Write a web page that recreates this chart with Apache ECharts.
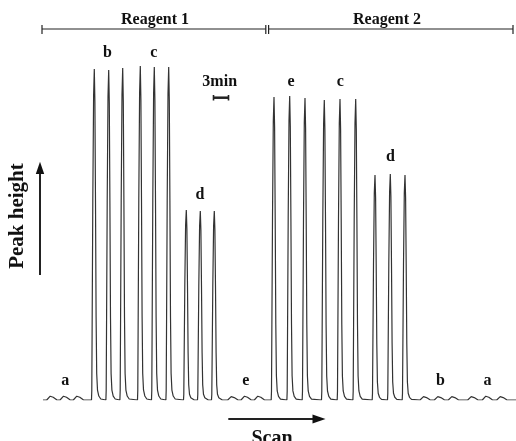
<!DOCTYPE html>
<html>
<head>
  <meta charset="utf-8">
</head>
<body style="margin: 0; background: #fff">
  <div id="container" style="width: 516px; height: 441px"></div>

  <script type="text/javascript" src="https://fastly.jsdelivr.net/npm/echarts@6/dist/echarts.min.js"></script>

  <script type="text/javascript">
    // scan time in min, peak height in relative units
    const reagent1Times = [10.26, 13.14, 15.94, 19.46, 22.26, 25.14, 28.66, 31.46, 34.26];
    const reagent1Heights = [331, 330, 332, 334, 333, 333, 190, 189, 189];
    const reagent2Times = [46.2, 49.34, 52.4, 56.26, 59.4, 62.54, 66.4, 69.46, 72.4];
    const reagent2Heights = [303, 304, 302, 300, 301, 301, 225, 226, 225];
    const blankTimes = [1.74, 4.4, 7.06, 37.94, 40.6, 43.26, 76.4, 79.26, 82.06, 85.94, 88.86, 91.74];
    const blankHeights = [4, 4, 4, 3.5, 4, 4, 3.5, 3.5, 3.5, 3.5, 4, 3.5];
    // shape of one peak (offset in min, fraction of height)
    const peakDx = [-0.56, -0.5, -0.44, -0.3, -0.14, 0, 0.12, 0.24, 0.36, 0.48, 0.64, 0.9, 1.3, 1.6];
    const peakFrac = [0, 0.03, 0.2, 0.6, 0.92, 1, 0.9, 0.6, 0.25, 0.08, 0.03, 0.012, 0.003, 0];
    const bumpDx = [-1, -0.6, -0.3, 0, 0.3, 0.6, 1, 1.4];
    const bumpFrac = [0, 0.5, 0.95, 1, 0.7, 0.3, 0.05, 0];
    const scanEnd = 94.6;

    function addPeaks(times, heights, dx, frac, out) {
      for (let i = 0; i < times.length; i++) {
        for (let j = 0; j < dx.length; j++) {
          out.push([+(times[i] + dx[j]).toFixed(3), heights[i] * frac[j]]);
        }
      }
    }

    let trace = [[0, 0], [scanEnd, 0]];
    addPeaks(reagent1Times, reagent1Heights, peakDx, peakFrac, trace);
    addPeaks(reagent2Times, reagent2Heights, peakDx, peakFrac, trace);
    addPeaks(blankTimes, blankHeights, bumpDx, bumpFrac, trace);
    trace.sort(function (a, b) { return a[0] - b[0]; });

    var dom = document.getElementById('container');
    var myChart = echarts.init(dom, null, { renderer: 'canvas' });

    const ink = '#111';
    const boldFont = function (size) {
      return 'bold ' + size + 'px "Liberation Serif", "Times New Roman", serif';
    };
    function label(txt, x, y, size) {
      return {
        type: 'text',
        x: x,
        y: y,
        style: {
          text: txt,
          font: boldFont(size || 16),
          fill: ink,
          align: 'center',
          verticalAlign: 'middle'
        }
      };
    }
    function seg(points, width) {
      return {
        type: 'polyline',
        shape: { points: points },
        style: { stroke: '#222', lineWidth: width || 1.2, fill: null }
      };
    }

    var option = {
      animation: false,
      backgroundColor: '#fff',
      grid: { left: 43, right: 0, top: 0, bottom: 41 },
      xAxis: { type: 'value', min: 0, max: scanEnd, show: false },
      yAxis: { type: 'value', min: 0, max: 400, show: false },
      series: [
        {
          type: 'line',
          data: trace,
          showSymbol: false,
          lineStyle: { color: '#333', width: 1.2 }
        }
      ],
      graphic: [
        // reagent brackets
        seg([[42, 29], [266, 29]]),
        seg([[268.5, 29], [513, 29]]),
        seg([[42, 25], [42, 34]]),
        seg([[265.8, 25], [265.8, 34]]),
        seg([[268.6, 25], [268.6, 34]]),
        seg([[513, 25], [513, 34]]),
        label('Reagent 1', 155, 19.6),
        label('Reagent 2', 387, 19.6),
        // 3 min scale bar
        seg([[213.5, 97.7], [228.5, 97.7]], 2.5),
        seg([[213.5, 95], [213.5, 100.5]], 1.6),
        seg([[228.5, 95], [228.5, 100.5]], 1.6),
        label('3min', 219.7, 82),
        // peak letters
        label('b', 107.5, 53),
        label('c', 153.7, 53),
        label('d', 200, 194.6),
        label('e', 291, 82),
        label('c', 340.3, 82),
        label('d', 390.5, 157),
        label('a', 65.2, 381),
        label('e', 245.8, 381),
        label('b', 440.5, 381),
        label('a', 487.5, 381),
        // peak height arrow
        seg([[40, 275], [40, 170]], 2),
        {
          type: 'polygon',
          shape: { points: [[40, 161.7], [44.2, 174], [35.8, 174]] },
          style: { fill: '#111' }
        },
        {
          type: 'text',
          x: 17.5,
          y: 216,
          rotation: Math.PI / 2,
          style: {
            text: 'Peak height',
            font: boldFont(21),
            fill: ink,
            align: 'center',
            verticalAlign: 'middle'
          }
        },
        // scan arrow
        seg([[228.3, 419], [316, 419]], 2),
        {
          type: 'polygon',
          shape: { points: [[325.5, 419], [312.5, 414.5], [312.5, 423.5]] },
          style: { fill: '#111' }
        },
        label('Scan', 272, 439, 20)
      ]
    };

    myChart.setOption(option);
    window.addEventListener('resize', myChart.resize);
  </script>
</body>
</html>
